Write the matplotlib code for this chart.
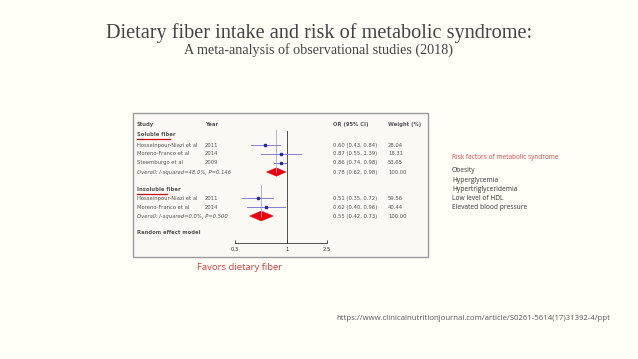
import matplotlib
matplotlib.use("Agg")
import matplotlib.pyplot as plt
from matplotlib.patches import Rectangle, Polygon
from matplotlib.transforms import blended_transform_factory

# forest plot data (odds ratios with 95% CI)
sol_study = ["Hosseinpour-Niazi et al", "Moreno-Franco et al", "Steemburgo et al"]
sol_year = ["2011", "2014", "2009"]
sol_or = [0.60, 0.87, 0.86]
sol_lo = [0.43, 0.55, 0.74]
sol_hi = [0.84, 1.39, 0.98]
sol_wt = ["28.04", "18.31", "53.65"]
sol_overall = (0.78, 0.62, 0.98)
sol_het = "Overall: I-squared=48.0%, P=0.146"

ins_study = ["Hosseinpour-Niazi et al", "Moreno-Franco et al"]
ins_year = ["2011", "2014"]
ins_or = [0.51, 0.62]
ins_lo = [0.35, 0.40]
ins_hi = [0.72, 0.96]
ins_wt = ["59.56", "40.44"]
ins_overall = (0.55, 0.42, 0.73)
ins_het = "Overall: I-squared=0.0%, P=0.500"

x_ticks = [0.3, 1, 2.5]
risk_factors = ["Obesity", "Hyperglycemia", "Hypertriglyceridemia",
                "Low level of HDL", "Elevated blood pressure"]

W, H = 638, 359
bg = "#fffff7"
fig = plt.figure(figsize=(W / 100, H / 100), dpi=100, facecolor=bg)

def fx(px):
    return px / W

def fy(py):
    return 1 - py / H

# titles
fig.text(0.5, fy(33), "Dietary fiber intake and risk of metabolic syndrome:",
         ha="center", va="center", fontsize=14.6, family="Liberation Serif", color="#444444")
fig.text(0.5, fy(50), "A meta-analysis of observational studies (2018)",
         ha="center", va="center", fontsize=10.2, family="Liberation Serif", color="#444444")

# forest plot frame
fig.patches.append(Rectangle((fx(133), fy(257)), fx(428) - fx(133), fy(113) - fy(257),
                             transform=fig.transFigure, facecolor="#fcf9f4",
                             edgecolor="#9a9a9a", lw=1.0, zorder=-1))

# axes for the plot region: x is OR (log), y is pixel row
ax = fig.add_axes([fx(235), fy(257), fx(326.7) - fx(235), fy(113) - fy(257)])
ax.set_zorder(2)
ax.set_xscale("log")
ax.set_xlim(0.3, 2.5)
ax.set_ylim(257, 113)
ax.patch.set_alpha(0)
for s in ["top", "right", "left"]:
    ax.spines[s].set_visible(False)
ax.spines["bottom"].set_position(("data", 243))
ax.spines["bottom"].set_linewidth(0.6)
ax.spines["bottom"].set_color("#333333")
ax.set_yticks([])
ax.set_xticks(x_ticks)
ax.set_xticklabels(["0.3", "1", "2.5"])
ax.xaxis.set_minor_locator(matplotlib.ticker.NullLocator())
ax.tick_params(axis="x", direction="in", length=2, width=0.6, labelsize=3.8,
               pad=3, colors="#333333")

tr = blended_transform_factory(fig.transFigure, ax.transData)
txt_c = "#555555"
fs = 3.8

def col_text(px, py, s, **kw):
    ax.text(fx(px), py + 1.6, s, transform=tr, fontsize=fs, va="baseline", ha="left",
            color=kw.pop("color", txt_c), clip_on=False, **kw)

# null line
ax.plot([1, 1], [131, 243], color="#333333", lw=0.6)

# header
col_text(137, 124.3, "Study", weight="bold")
col_text(205, 124.3, "Year", weight="bold")
col_text(333, 124.3, "OR (95% CI)", weight="bold")
col_text(388, 124.3, "Weight (%)", weight="bold")

def draw_group(title, y_title, y_rows, y_ov, study, year, orr, lo, hi, wt, overall, het,
               underline_to, line_top, hh):
    col_text(137, y_title, title, weight="bold")
    ax.plot([fx(137), fx(underline_to)], [y_title + 4] * 2, transform=tr,
            color="#c81010", lw=0.9, clip_on=False)
    o, l, h = overall
    ax.plot([o, o], [line_top, y_ov], color="#a8a8d8", lw=0.6)
    for y, s, yr, po, pl, ph, w in zip(y_rows, study, year, orr, lo, hi, wt):
        ax.plot([pl, ph], [y, y], color="#8080d0", lw=0.7)
        ax.plot([po], [y], marker="s", ms=1.5, color="#2a2a9a", lw=0)
        col_text(137, y, s)
        col_text(205, y, yr)
        col_text(333, y, f"{po:.2f} ({pl:.2f}, {ph:.2f})")
        col_text(388, y, w)
    ax.add_patch(Polygon([[l, y_ov], [o, y_ov - hh], [h, y_ov], [o, y_ov + hh]],
                         closed=True, facecolor="#e8000f", edgecolor="#e8000f", lw=0.3))
    col_text(137, y_ov, het, style="italic")
    col_text(333, y_ov, f"{o:.2f} ({l:.2f}, {h:.2f})")
    col_text(388, y_ov, "100.00")

draw_group("Soluble fiber", 134.5, [145, 153.7, 162.5], 172, sol_study, sol_year,
           sol_or, sol_lo, sol_hi, sol_wt, sol_overall, sol_het, 170, 130, 4.2)
draw_group("Insoluble fiber", 189.5, [198, 207], 216, ins_study, ins_year,
           ins_or, ins_lo, ins_hi, ins_wt, ins_overall, ins_het, 167, 185, 5)
col_text(137, 232.7, "Random effect model", weight="bold")

fig.text(fx(240), fy(268), "Favors dietary fiber", ha="center", va="center",
         fontsize=6.8, color="#d04040", family="Open Sans")

# risk factors list
fig.text(fx(452), fy(157), "Risk factors of metabolic syndrome", ha="left", va="center",
         fontsize=4.7, color="#e04545", family="Open Sans")
for i, r in enumerate(risk_factors):
    fig.text(fx(452), fy(171 + i * 9.2), r, ha="left", va="center",
             fontsize=4.8, color="#333333", family="Open Sans")

fig.text(fx(610), fy(318), "https://www.clinicalnutritionjournal.com/article/S0261-5614(17)31392-4/ppt",
         ha="right", va="center", fontsize=5.6, color="#555555", family="Open Sans")

fig.savefig("out.png", dpi=100, facecolor=bg)
